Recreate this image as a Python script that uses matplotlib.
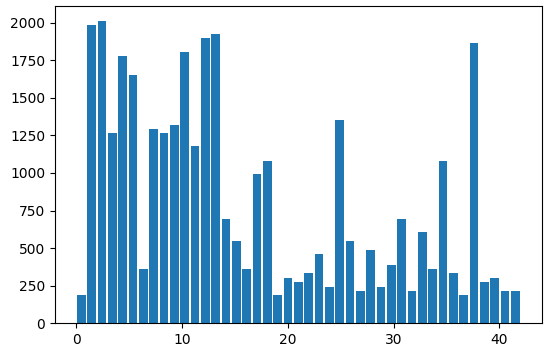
import matplotlib
matplotlib.use("Agg")
import matplotlib.pyplot as plt
import numpy as np

# bar heights, one per bin
counts = [187, 1982, 2011, 1264, 1778, 1651, 360, 1293, 1264, 1322,
          1807, 1178, 1896, 1924, 691, 547, 360, 993, 1080, 187,
          302, 273, 331, 458, 244, 1351, 544, 216, 487, 244,
          389, 691, 216, 604, 360, 1080, 331, 187, 1867, 273,
          302, 216, 216]

# bins spread evenly over 0..42
edges = np.linspace(0, 42, len(counts) + 1)
centers = (edges[:-1] + edges[1:]) / 2

fig = plt.figure(figsize=(5.5, 3.54), dpi=100)
ax = fig.add_axes([0.1, 0.087, 0.885, 0.896])

ax.bar(centers, counts, width=0.8, color="#1f77b4")
ax.set_yticks([0, 250, 500, 750, 1000, 1250, 1500, 1750, 2000])
ax.set_xticks([0, 10, 20, 30, 40])

fig.savefig("out.png", dpi=100)
